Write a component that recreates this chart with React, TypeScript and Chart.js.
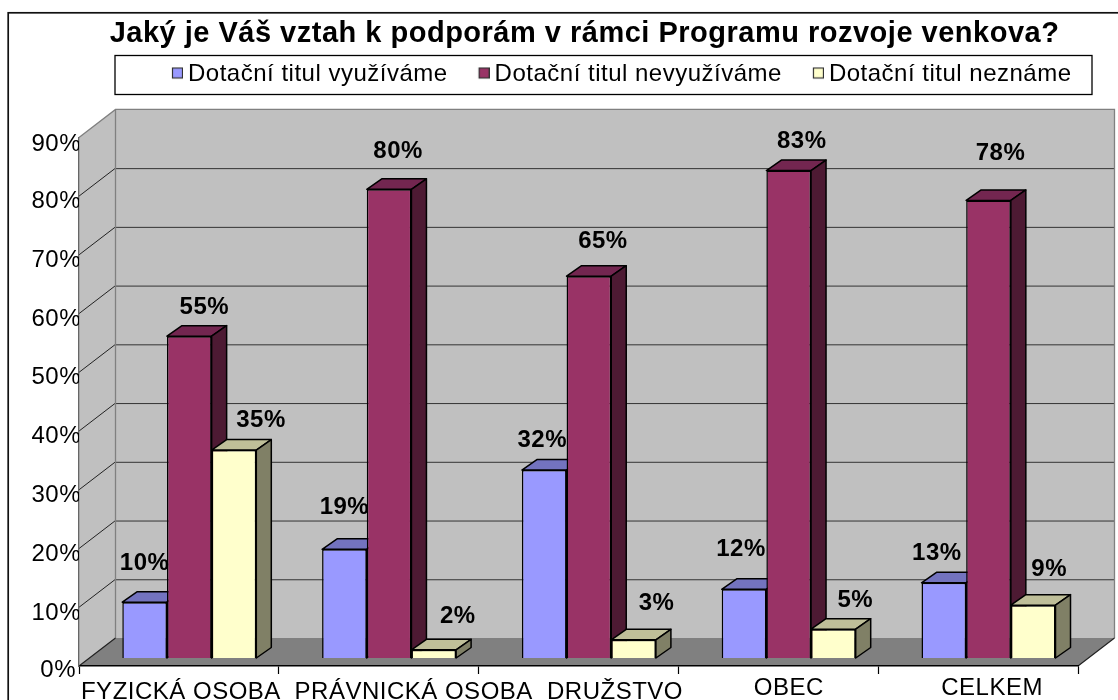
import React, { useEffect, useRef } from "react";
import { Chart, registerables } from "chart.js";

Chart.register(...registerables);

const categories = ["FYZICKÁ OSOBA", "PRÁVNICKÁ OSOBA", "DRUŽSTVO", "OBEC", "CELKEM"];
const seriesNames = ["Dotační titul využíváme", "Dotační titul nevyužíváme", "Dotační titul neznáme"];
const used = [9.5, 18.5, 32, 11.7, 12.8];
const notUsed = [54.8, 79.8, 65, 83, 77.9];
const unknown = [35.4, 1.4, 3.1, 4.9, 9];
const usedLabels = ["10%", "19%", "32%", "12%", "13%"];
const notUsedLabels = ["55%", "80%", "65%", "83%", "78%"];
const unknownLabels = ["35%", "2%", "3%", "5%", "9%"];
const titleText = "Jaký je Váš vztah k podporám v rámci Programu rozvoje venkova?";

// styling
const FONT = "'Liberation Sans', Arial, sans-serif";
const fronts = ["#9999FF", "#993366", "#FFFFCC"];
const tops = ["#7373BF", "#732650", "#BFBF99"];
const sides = ["#5C5C99", "#4D1A33", "#808066"];
const WALL_DX = 36.5, WALL_DY = -28;
const BAR_PLANE_DX = 10.4, BAR_PLANE_DY = -8;
const BAR_DX = 15, BAR_DY = -10.5;
const xLabelNudge = [2, 35, 36.5, 10.5, 14];
const xLabelY = [692, 692, 692, 688, 688];
const yLabelNudgeY = [4.3, 5.7, 5.6, 5.5, 5.5, 5.5, 5.5, 5.5, 5, 6.5];
const LABEL_SHIFT_Y = 1.5;
const labelNudges = [
  [[0, -40], [0, -43], [-2, -31], [-3, -41], [-7, -31]],
  [[15, -30], [9, -39], [14, -36], [13, -31], [12, -49]],
  [[27, -31], [24, -35], [23, -38], [22, -30], [16, -37]],
];
const labelTexts = [usedLabels, notUsedLabels, unknownLabels];

function legendMarker(color: string) {
  const c = document.createElement("canvas");
  c.width = 15;
  c.height = 15;
  const g = c.getContext("2d") as CanvasRenderingContext2D;
  g.fillStyle = color;
  g.fillRect(4.5, 1.5, 10, 10);
  g.strokeStyle = "#333";
  g.lineWidth = 1.2;
  g.strokeRect(4.5, 1.5, 10, 10);
  return c;
}

const chrome3d = {
  id: "chrome3d",
  beforeLayout(chart: any) {
    chart.ctx.letterSpacing = "0.5px";
  },
  afterLayout(chart: any) {
    const t = chart.titleBlock;
    t.left += 45.5;
    t.right += 45.5;
    t.top = 34 - 17.4;
    const l = chart.legend;
    const pad = l.options.labels.padding;
    l.left = 175 - pad;
    l.right = 1500;
    l.top = 74 - 12 - pad;
  },
  beforeDraw(chart: any) {
    const { ctx, scales } = chart;
    ctx.letterSpacing = "0.5px";
    ctx.save();
    ctx.fillStyle = "#fff";
    ctx.fillRect(0, 0, 1118, 700);
    ctx.strokeStyle = "#111";
    ctx.lineWidth = 1.7;
    ctx.strokeRect(8.2, 12.8, 1400, 900);
    ctx.lineWidth = 1.3;
    ctx.strokeStyle = "#000";
    ctx.strokeRect(115, 55.5, 977, 39);
    ctx.restore();
    const xs = scales.x, ys = scales.y;
    xs.getLabelItems().forEach((it: any, i: number) => {
      it.options.translation[0] = xs.getPixelForTick(i) + xLabelNudge[i];
      it.options.translation[1] = xLabelY[i];
      it.options.textBaseline = "middle";
      it.textOffset = 0;
    });
    ys.getLabelItems().forEach((it: any, i: number) => {
      it.options.translation[1] = ys.getPixelForTick(i) + yLabelNudgeY[i];
      if (i === 0) it.options.translation[0] = ys.right - 3;
    });
  },
  beforeDatasetsDraw(chart: any) {
    const { ctx, scales } = chart;
    const xs = scales.x, ys = scales.y;
    const L = xs.left, R = xs.right, T = ys.top, B = ys.bottom;
    const poly = (pts: number[][], fill: string, stroke?: string, lw = 1.5) => {
      ctx.beginPath();
      pts.forEach((p, i) => (i ? ctx.lineTo(p[0], p[1]) : ctx.moveTo(p[0], p[1])));
      ctx.closePath();
      ctx.fillStyle = fill;
      ctx.fill();
      if (stroke) { ctx.strokeStyle = stroke; ctx.lineWidth = lw; ctx.lineJoin = "round"; ctx.stroke(); }
    };
    ctx.save();
    // back wall, side wall, floor
    poly([[L + WALL_DX, T + WALL_DY], [R + WALL_DX, T + WALL_DY], [R + WALL_DX, B + WALL_DY], [L + WALL_DX, B + WALL_DY]], "#C0C0C0");
    poly([[L, T], [L + WALL_DX, T + WALL_DY], [L + WALL_DX, B + WALL_DY], [L, B]], "#C0C0C0");
    poly([[L, B], [R, B], [R + WALL_DX, B + WALL_DY], [L + WALL_DX, B + WALL_DY]], "#808080");
    // gridlines
    ctx.lineWidth = 1;
    ys.ticks.forEach((t: any) => {
      if (t.value === 0 || t.value === 90) return;
      const y = ys.getPixelForValue(t.value);
      ctx.beginPath();
      ctx.moveTo(L, y);
      ctx.lineTo(L + WALL_DX, y + WALL_DY);
      ctx.strokeStyle = "#222";
      ctx.stroke();
      ctx.beginPath();
      ctx.moveTo(L + WALL_DX, y + WALL_DY + 0.5);
      ctx.lineTo(R + WALL_DX, y + WALL_DY + 0.5);
      ctx.strokeStyle = "#333";
      ctx.stroke();
    });
    // wall outlines
    ctx.strokeStyle = "#808080";
    ctx.lineWidth = 1.3;
    ctx.beginPath();
    ctx.moveTo(L, T);
    ctx.lineTo(L + WALL_DX, T + WALL_DY);
    ctx.lineTo(R + WALL_DX, T + WALL_DY);
    ctx.lineTo(R + WALL_DX, B + WALL_DY);
    ctx.moveTo(L + WALL_DX, T + WALL_DY);
    ctx.lineTo(L + WALL_DX, B + WALL_DY);
    ctx.stroke();
    ctx.strokeStyle = "#222";
    ctx.lineWidth = 1.2;
    ctx.beginPath();
    ctx.moveTo(L, B);
    ctx.lineTo(L + WALL_DX, B + WALL_DY);
    ctx.moveTo(R, B);
    ctx.lineTo(R + WALL_DX, B + WALL_DY);
    ctx.stroke();
    // bar extrusions
    ctx.translate(BAR_PLANE_DX, BAR_PLANE_DY);
    chart.data.datasets.forEach((_: any, d: number) => {
      chart.getDatasetMeta(d).data.forEach((bar: any) => {
        const x0 = bar.x - bar.width / 2, x1 = bar.x + bar.width / 2;
        poly([[x0, bar.y], [x0 + BAR_DX, bar.y + BAR_DY], [x1 + BAR_DX, bar.y + BAR_DY], [x1, bar.y]], tops[d], "#000");
        poly([[x1, bar.y], [x1 + BAR_DX, bar.y + BAR_DY], [x1 + BAR_DX, bar.base + BAR_DY], [x1, bar.base]], sides[d], "#000");
      });
    });
    ctx.restore();
    ctx.save();
    ctx.translate(BAR_PLANE_DX, BAR_PLANE_DY);
  },
  afterDatasetsDraw(chart: any) {
    const { ctx } = chart;
    ctx.restore();
    ctx.save();
    ctx.font = `bold 24px ${FONT}`;
    ctx.fillStyle = "#000";
    ctx.textAlign = "center";
    ctx.textBaseline = "middle";
    chart.data.datasets.forEach((_: any, d: number) => {
      chart.getDatasetMeta(d).data.forEach((bar: any, i: number) => {
        ctx.fillText(
          labelTexts[d][i],
          bar.x + BAR_PLANE_DX + labelNudges[d][i][0],
          bar.y + BAR_PLANE_DY + labelNudges[d][i][1] + LABEL_SHIFT_Y
        );
      });
    });
    ctx.restore();
  },
};

export default function App() {
  const ref = useRef<HTMLCanvasElement | null>(null);
  useEffect(() => {
    const values = [used, notUsed, unknown];
    const markers = fronts.map(legendMarker);
    const chart = new Chart(ref.current as HTMLCanvasElement, {
      type: "bar",
      data: {
        labels: categories,
        datasets: seriesNames.map((name, i) => ({
          label: name,
          data: values[i],
          backgroundColor: fronts[i],
          borderColor: "#000",
          borderWidth: 1.5,
          barPercentage: 1,
          categoryPercentage: 0.6707,
        })),
      },
      options: {
        animation: false,
        responsive: false,
        layout: { padding: { left: 0, right: 40, top: 22.6, bottom: 0 } },
        scales: {
          x: {
            grid: { display: true, drawOnChartArea: false, drawTicks: true, tickLength: 8, tickColor: "#000", tickWidth: 1.2 },
            border: { display: true, color: "#000", width: 1.5, z: 1 },
            ticks: { color: "#000", font: { family: FONT, size: 24 }, maxRotation: 0, autoSkip: false, z: 1 },
            afterFit: (s: any) => { s.height = 34; },
          },
          y: {
            min: 0,
            max: 90,
            grid: { display: false },
            border: { display: true, color: "#666", width: 1.3, z: 1 },
            ticks: {
              stepSize: 10,
              color: "#000",
              font: { family: FONT, size: 24 },
              padding: -10,
              z: 1,
              callback: (v: any) => `${v}%`,
            },
            afterFit: (s: any) => { s.width = 79; },
          },
        },
        plugins: {
          title: {
            display: true,
            text: titleText,
            color: "#000",
            font: { family: FONT, size: 29, weight: "bold", lineHeight: 1.2 },
            padding: { top: 0, bottom: 12 },
          },
          legend: {
            display: true,
            align: "start",
            labels: {
              color: "#000",
              font: { family: FONT, size: 24 },
              usePointStyle: true,
              pointStyleWidth: 1,
              boxHeight: 11,
              padding: 34,
              generateLabels: (c: any) =>
                Chart.defaults.plugins.legend.labels.generateLabels(c).map((item: any, i: number) => ({
                  ...item,
                  pointStyle: markers[i],
                })),
            },
          },
          tooltip: { enabled: false },
        },
      } as any,
      plugins: [chrome3d as any],
    });
    return () => chart.destroy();
  }, []);
  return (
    <div style={{ position: "fixed", left: 0, top: 0, width: 1118, height: 700, overflow: "hidden", background: "#fff" }}>
      <canvas ref={ref} width={1118} height={700} style={{ display: "block" }} />
    </div>
  );
}
